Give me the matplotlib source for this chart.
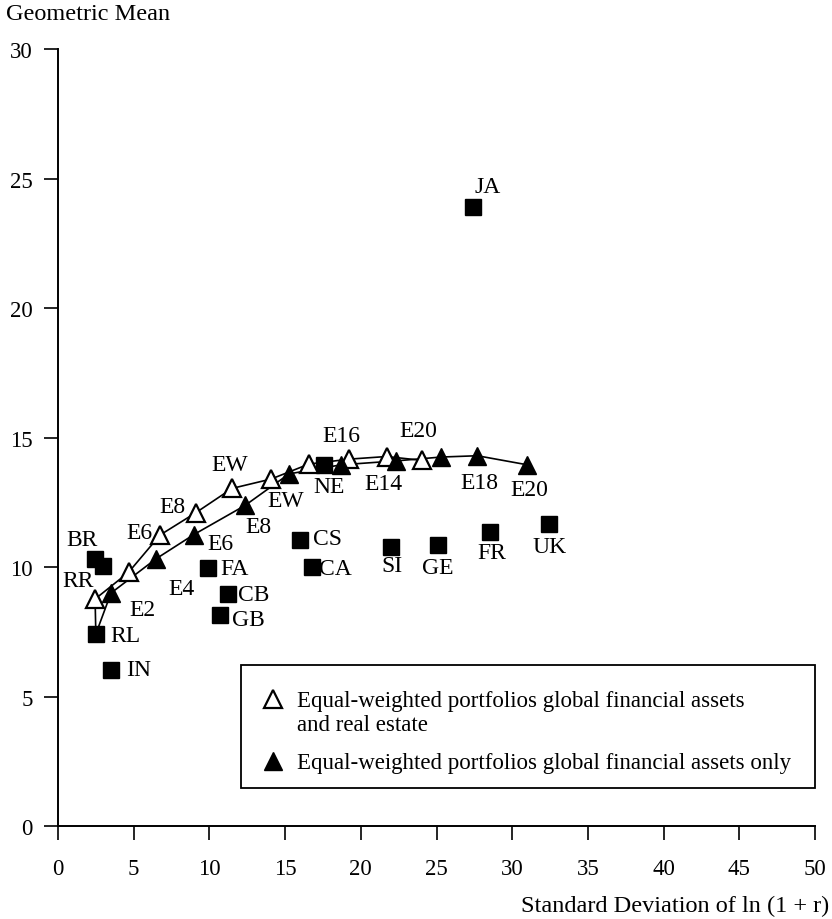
import matplotlib
matplotlib.use('Agg')
import matplotlib.pyplot as plt
from matplotlib.patches import Rectangle

plt.rcParams['font.family'] = ['Liberation Serif', 'DejaVu Serif']
plt.rcParams['font.size'] = 16

# Activos individuales (cuadrados negros)
asset_names = ['JA', 'BR', '', 'RL', 'IN', 'FA', 'CB', 'GB', 'CS', 'CA', 'NE', 'SI', 'GE', 'FR', 'UK']
asset_sd = [27.4, 2.45, 3.0, 2.5, 3.53, 9.9, 11.2, 10.7, 16.0, 16.8, 17.6, 22.0, 25.07, 28.5, 32.4]
asset_gm = [23.9, 10.3, 10.05, 7.42, 6.04, 9.95, 8.96, 8.16, 11.05, 9.99, 13.95, 10.78, 10.86, 11.34, 11.67]

# Carteras equiponderadas con bienes raices (triangulos blancos)
re_names = ['RR', '', 'E6', 'E8', 'EW', '', '', 'E16', '', 'E20']
re_sd = [2.45, 4.66, 6.74, 9.1, 11.5, 14.07, 16.58, 19.25, 21.7, 24.07]
re_gm = [8.77, 9.8, 11.24, 12.1, 13.04, 13.4, 13.98, 14.17, 14.27, 14.12]

# Carteras equiponderadas solo activos financieros (triangulos negros)
fin_names = ['E2', 'E4', 'E6', 'E8', 'EW', '', 'E14', '', 'E18', 'E20']
fin_sd = [3.5, 6.47, 8.98, 12.35, 15.26, 18.7, 22.3, 25.3, 27.7, 31.0]
fin_gm = [9.0, 10.32, 11.26, 12.38, 13.6, 13.95, 14.1, 14.25, 14.3, 13.95]

legend_labels = ['Equal-weighted portfolios global financial assets\nand real estate',
                 'Equal-weighted portfolios global financial assets only']

# desplazamiento de etiquetas (pixeles)
asset_off = {'JA': (15, 21), 'BR': (-13, 20), 'RL': (30, -1), 'IN': (27, 0), 'FA': (27, 0),
             'CB': (26, 0), 'GB': (28, -5), 'CS': (27, 1), 'CA': (23, -1), 'NE': (5, -22),
             'SI': (1, -19), 'GE': (0, -23), 'FR': (2, -20), 'UK': (1, -23)}
re_off = [(-17, 19), None, (-21, 3), (-23, 6), (-2, 24), None, None, (-8, 24), None, (-4, 30)]
fin_off = [(31, -16), (26, -30), (26, -9), (13, -21), (-3, -27), None, (-12, -23), None, (2, -27), (2, -25)]

LBL = 17

fig = plt.figure(figsize=(8.32, 9.20), dpi=100)
ax = fig.add_axes([0.0697, 0.1008, 0.9099, 0.8449])

# las dos curvas parten desde RL
rl = asset_names.index('RL')
ax.plot([asset_sd[rl]] + re_sd, [asset_gm[rl]] + re_gm, color='black', lw=1.2, zorder=2)
ax.plot([asset_sd[rl]] + fin_sd, [asset_gm[rl]] + fin_gm, color='black', lw=1.2, zorder=2)

ax.plot(asset_sd, asset_gm, 's', color='black', ms=12, ls='none', zorder=3)
ax.plot(re_sd, re_gm, '^', mfc='white', mec='black', mew=1.6, ms=13, ls='none', zorder=4)
ax.plot(fin_sd, fin_gm, '^', color='black', ms=13, ls='none', zorder=4)

for n, x, y in zip(asset_names, asset_sd, asset_gm):
    if n:
        ax.annotate(n, (x, y), xytext=asset_off[n], textcoords='offset pixels',
                    ha='center', va='center', fontsize=LBL)
for n, x, y, o in zip(re_names, re_sd, re_gm, re_off):
    if n:
        ax.annotate(n, (x, y), xytext=o, textcoords='offset pixels',
                    ha='center', va='center', fontsize=LBL)
for n, x, y, o in zip(fin_names, fin_sd, fin_gm, fin_off):
    if n:
        ax.annotate(n, (x, y), xytext=o, textcoords='offset pixels',
                    ha='center', va='center', fontsize=LBL)

ax.set_xlim(0, 50)
ax.set_ylim(0, 30)
ax.set_xticks(range(0, 51, 5))
ax.set_yticks(range(0, 31, 5))
ax.spines['top'].set_visible(False)
ax.spines['right'].set_visible(False)
for s in ['left', 'bottom']:
    ax.spines[s].set_linewidth(1.4)
ax.tick_params(axis='both', length=10, width=1.2, labelsize=16.5)
ax.tick_params(axis='x', pad=13)
ax.tick_params(axis='y', pad=8)

# leyenda dibujada a mano
ax.add_patch(Rectangle((0.2417, 0.0493), 0.7583, 0.1582, transform=ax.transAxes,
                       fill=False, ec='black', lw=1.3, clip_on=False, zorder=5))
ax.plot([0.284], [0.164], '^', mfc='white', mec='black', mew=1.6, ms=13,
        transform=ax.transAxes, clip_on=False, zorder=6)
ax.plot([0.284], [0.0841], '^', color='black', ms=13,
        transform=ax.transAxes, clip_on=False, zorder=6)
ax.text(0.3157, 0.1239, legend_labels[0], transform=ax.transAxes, va='baseline',
        ha='left', fontsize=16.5, linespacing=1.2)
ax.text(0.3157, 0.075, legend_labels[1], transform=ax.transAxes, va='baseline',
        ha='left', fontsize=16.5)

fig.text(6 / 832, 1 - 14 / 920, 'Geometric Mean', ha='left', va='center', fontsize=17.5)
fig.text(829 / 832, 1 - 906 / 920, 'Standard Deviation of ln (1 + r)', ha='right',
         va='center', fontsize=17.5)

plt.savefig('out.png', dpi=100)
